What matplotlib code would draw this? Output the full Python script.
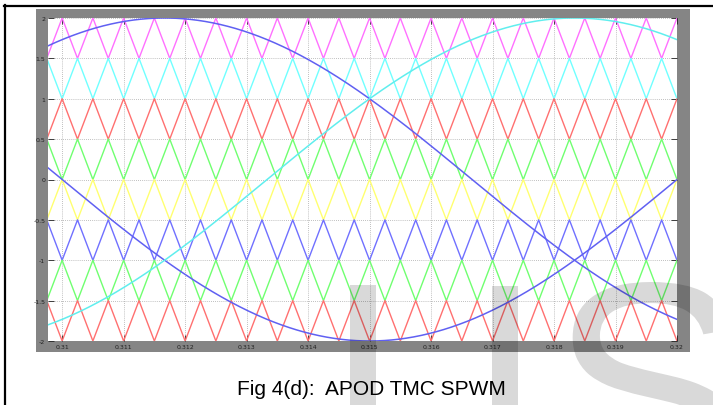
import numpy as np
import matplotlib
matplotlib.use("Agg")
import matplotlib.pyplot as plt
from matplotlib.patches import Rectangle, PathPatch
from matplotlib.lines import Line2D
from matplotlib.textpath import TextPath
from matplotlib.font_manager import FontProperties
from matplotlib.transforms import Affine2D, IdentityTransform

# ---------------- data ----------------
t_min, t_max = 0.30977, 0.32
carrier_freq = 2000.0                     # Hz (two periods per 0.001 s)
carrier_first_vertex = 0.31               # band "A" carriers peak here
carrier_lows = [1.5, 1.0, 0.5, 0.0, -0.5, -1.0, -1.5, -2.0]
carrier_height = 0.5
carrier_opposed = [False, True, False, True, False, True, False, True]
carrier_colors = ['#ff70ff', '#70ffff', '#ff7070', '#70ff70',
                  '#ffff70', '#7070ff', '#70ff70', '#ff7070']

ref_amplitude = 2.0
ref_freq = 50.0
ref_trough_time = 0.315
ref_phase_deg = [0.0, -120.0, 120.0]
ref_colors = ['#6060f2', '#6060f2', '#60eeee']

x_ticks = [0.31, 0.311, 0.312, 0.313, 0.314, 0.315, 0.316, 0.317, 0.318, 0.319, 0.32]
x_labels = ['0.31', '0.311', '0.312', '0.313', '0.314', '0.315', '0.316',
            '0.317', '0.318', '0.319', '0.32']
y_ticks = [-2, -1.5, -1, -0.5, 0, 0.5, 1, 1.5, 2]
y_labels = ['-2', '-1.5', '-1', '-0.5', '0', '0.5', '1', '1.5', '2']

caption = 'Fig 4(d):  APOD TMC SPWM'

# ---------------- figure ----------------
W, H = 713, 406
fig = plt.figure(figsize=(W / 100, H / 100), dpi=100)
fig.patch.set_facecolor('white')

def fx(px):
    return px / W

def fy(py):
    return 1 - py / H

# black border (left and top)
fig.add_artist(Line2D([fx(5), fx(5)], [fy(6), 0], color='black', lw=1.6))
fig.add_artist(Line2D([fx(4), 1], [fy(7), fy(7)], color='black', lw=1.6))

# gray scope frame
fig.add_artist(Rectangle((fx(36), fy(353)), (690 - 36) / W, (353 - 10) / H,
                         transform=fig.transFigure, facecolor='#858585',
                         edgecolor='none', zorder=0))

ax = fig.add_axes([fx(48), fy(342), (677 - 48) / W, (342 - 19) / H])
ax.set_facecolor('white')

# carriers
half = 0.5 / carrier_freq
k = np.arange(-2, int((t_max - carrier_first_vertex) / half) + 3)
tv = carrier_first_vertex + k * half
for low, opp, col in zip(carrier_lows, carrier_opposed, carrier_colors):
    top_at_even = not opp
    vals = np.where((k % 2 == 0) == top_at_even, low + carrier_height, low)
    ax.plot(tv, vals, color=col, lw=1.0, zorder=2)

# references
t = np.linspace(t_min, t_max, 1500)
theta = 2 * np.pi * ref_freq * (t - ref_trough_time)
for ph, col in zip(ref_phase_deg, ref_colors):
    ax.plot(t, -ref_amplitude * np.cos(theta + np.deg2rad(ph)), color=col,
            lw=1.1, zorder=3)

ax.set_xlim(t_min, t_max)
ax.set_ylim(-2, 2)
ax.set_xticks(x_ticks)
ax.set_xticklabels(x_labels)
ax.set_yticks(y_ticks)
ax.set_yticklabels(y_labels)
ax.tick_params(direction='in', length=4, width=0.6, color='#222222',
               labelsize=4.5, labelcolor='#222222', pad=2,
               top=True, right=True)
ax.grid(True, color='#aaaaaa', linestyle=(0, (1, 1.5)), lw=0.6)
for s in ax.spines.values():
    s.set_visible(False)

fig.text(fx(371), fy(390), caption, ha='center', va='center', fontsize=15,
         family='Liberation Sans', color='black')

# watermark (semi-transparent, partly cropped)
wm_kw = dict(facecolor='black', alpha=0.15, edgecolor='none',
             transform=IdentityTransform(), zorder=10)
fig.add_artist(Rectangle((350, 0), 26, H - 286, **wm_kw))
fig.add_artist(Rectangle((492, 0), 26, H - 287, **wm_kw))

fp = FontProperties(family='Liberation Sans')
pI = TextPath((0, 0), 'I', size=100, prop=fp).get_extents()
sc = 28 / pI.width
pS = TextPath((0, 0), 'S', size=100, prop=fp)
eS = pS.get_extents()
tr = Affine2D().scale(sc).translate(563 - eS.x0 * sc, (H - 283) - eS.y1 * sc)
fig.add_artist(PathPatch(tr.transform_path(pS), **wm_kw))

fig.savefig('out.png', dpi=100)
